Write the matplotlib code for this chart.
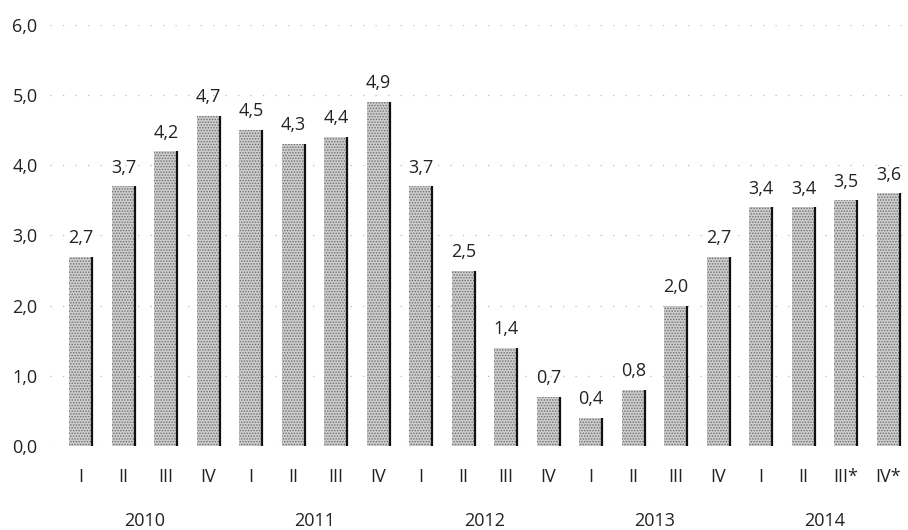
import matplotlib
matplotlib.use('Agg')
import matplotlib.pyplot as plt
import numpy as np

plt.rcParams['font.family'] = ['Open Sans', 'DejaVu Sans']
plt.rcParams['hatch.color'] = '#6e6e6e'
plt.rcParams['hatch.linewidth'] = 0.7

quarters = ['I', 'II', 'III', 'IV', 'I', 'II', 'III', 'IV', 'I', 'II', 'III', 'IV',
            'I', 'II', 'III', 'IV', 'I', 'II', 'III*', 'IV*']
years = ['2010', '2011', '2012', '2013', '2014']
values = [2.7, 3.7, 4.2, 4.7, 4.5, 4.3, 4.4, 4.9, 3.7, 2.5, 1.4, 0.7,
          0.4, 0.8, 2.0, 2.7, 3.4, 3.4, 3.5, 3.6]
yticks = [0, 1, 2, 3, 4, 5, 6]

x = np.arange(len(values))
w = 0.54
fs = 13

fig = plt.figure(figsize=(9.08, 5.3), dpi=100)
ax = fig.add_axes([0.055, 0.1585, 0.945, 0.7945])

ax.set_axisbelow(True)
ax.yaxis.grid(True, color='#bdbdbd', linestyle=(0, (1, 9)), linewidth=0.9)

ax.bar(x, values, width=w, color='#cdcdcd', hatch='......', linewidth=0)
# dark right edge of each bar
ax.vlines(x + w / 2, 0, values, color='#111111', linewidth=1.6)

for xi, v in zip(x, values):
    ax.annotate(f'{v:.1f}'.replace('.', ','), (xi, v), xytext=(0, 7),
                textcoords='offset points', ha='center', va='bottom',
                fontsize=fs, color='#222222')

ax.set_xlim(-0.73, 19.46)
ax.set_ylim(0, 6)
ax.set_yticks(yticks)
ax.set_yticklabels([f'{t:.1f}'.replace('.', ',') for t in yticks], fontsize=fs, color='#222222')
ax.set_xticks(x)
ax.set_xticklabels(quarters, fontsize=fs, color='#222222')
ax.tick_params(axis='both', length=0)
ax.tick_params(axis='x', pad=16)
ax.tick_params(axis='y', pad=9)

for i, yr in enumerate(years):
    ax.text(i * 4 + 1.5, -0.177, yr, transform=ax.get_xaxis_transform(),
            ha='center', va='center', fontsize=fs, color='#222222')

for s in ax.spines.values():
    s.set_visible(False)

fig.savefig('out.png', dpi=100)
